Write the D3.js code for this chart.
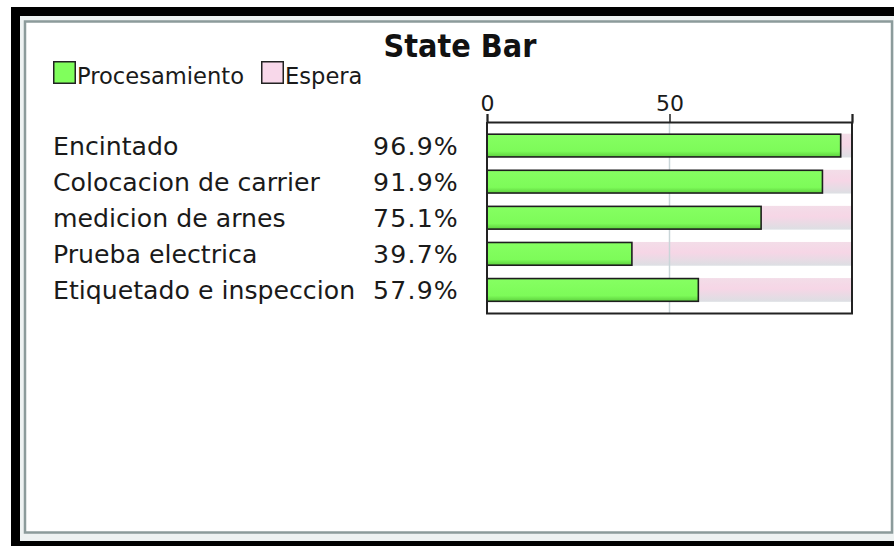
<!DOCTYPE html>
<html>
<head>
<meta charset="utf-8">
<script src="https://cdn.jsdelivr.net/npm/d3@7"></script>
<style>
  html, body { margin: 0; padding: 0; background: #ffffff; }
  svg { display: block; }
</style>
</head>
<body>
<svg id="chart" width="894" height="546"></svg>
<script>
// ---- data ----
const categories = ["Encintado", "Colocacion de carrier", "medicion de arnes", "Prueba electrica", "Etiquetado e inspeccion"];
const procesamiento = [96.9, 91.9, 75.1, 39.7, 57.9];
const espera = [3.1, 8.1, 24.9, 60.3, 42.1];
const seriesNames = ["Procesamiento", "Espera"];
const tickValues = [0, 50, 100];
const tickLabels = ["0", "50", ""];
const title = "State Bar";

const svg = d3.select("#chart");
const defs = svg.append("defs");

const gGreen = defs.append("linearGradient").attr("id", "gGreen").attr("x1", 0).attr("y1", 0).attr("x2", 0).attr("y2", 1);
gGreen.append("stop").attr("offset", "0%").attr("stop-color", "#86ff62");
gGreen.append("stop").attr("offset", "75%").attr("stop-color", "#7dfb59");
gGreen.append("stop").attr("offset", "100%").attr("stop-color", "#5ccf3d");

const gPink = defs.append("linearGradient").attr("id", "gPink").attr("x1", 0).attr("y1", 0).attr("x2", 0).attr("y2", 1);
gPink.append("stop").attr("offset", "0%").attr("stop-color", "#f3dde8");
gPink.append("stop").attr("offset", "45%").attr("stop-color", "#f6d6e6");
gPink.append("stop").attr("offset", "100%").attr("stop-color", "#dcdfe3");

// ---- window frame ----
svg.append("rect").attr("x", 11).attr("y", 7).attr("width", 900).attr("height", 560).attr("fill", "#000");
svg.append("rect").attr("x", 20).attr("y", 16).attr("width", 890).attr("height", 525).attr("fill", "#eef2f2");
svg.append("rect").attr("x", 25).attr("y", 21.5).attr("width", 867).attr("height", 511)
  .attr("fill", "#ffffff").attr("stroke", "#8c9b9b").attr("stroke-width", 2.5);

// ---- title ----
svg.append("text").attr("x", 460).attr("y", 57)
  .attr("text-anchor", "middle")
  .attr("font-family", "'DejaVu Sans Condensed', 'DejaVu Sans', sans-serif")
  .attr("font-weight", "bold").attr("font-size", 32).attr("fill", "#111")
  .text(title);

// ---- legend ----
const legendItems = [
  { name: seriesNames[0], fill: "#80ff5c", x: 53 },
  { name: seriesNames[1], fill: "#f8d8ea", x: 261 }
];
const leg = svg.append("g");
legendItems.forEach(d => {
  leg.append("rect").attr("x", d.x + 0.75).attr("y", 61.75).attr("width", 21.5).attr("height", 21.5)
    .attr("fill", d.fill).attr("stroke", "#222").attr("stroke-width", 1.5);
  leg.append("text").attr("x", d.x + 24).attr("y", 84)
    .attr("font-family", "'DejaVu Sans', sans-serif").attr("font-size", 22.6).attr("fill", "#1a1a1a")
    .text(d.name);
});

// ---- scales ----
const plot = { left: 487, right: 852, top: 122, bottom: 313.5 };
const x = d3.scaleLinear().domain([0, 100]).range([plot.left, plot.right]);
const y = d3.scaleBand().domain(categories).range([plot.top, plot.bottom]).paddingInner(0.37).paddingOuter(0.338);

// espera background bars (stacked after procesamiento, spanning to 100)
svg.append("g").selectAll("rect").data(categories).join("rect")
  .attr("x", (d, i) => x(procesamiento[i]))
  .attr("y", d => y(d) - 0.5)
  .attr("width", (d, i) => x(procesamiento[i] + espera[i]) - x(procesamiento[i]))
  .attr("height", y.bandwidth() + 1)
  .attr("fill", "url(#gPink)");

// gridline at 50
svg.append("line").attr("x1", x(50)).attr("x2", x(50)).attr("y1", plot.top).attr("y2", plot.bottom)
  .attr("stroke", "#c9d5d8").attr("stroke-width", 1.5);

// procesamiento bars
svg.append("g").selectAll("rect").data(categories).join("rect")
  .attr("x", x(0))
  .attr("y", d => y(d))
  .attr("width", (d, i) => x(procesamiento[i]) - x(0))
  .attr("height", y.bandwidth())
  .attr("fill", "url(#gGreen)")
  .attr("stroke", "#1e1e1e").attr("stroke-width", 1.6);

// plot frame
svg.append("path")
  .attr("d", `M${plot.left},${plot.top}V${plot.bottom}H${plot.right}V${plot.top}`)
  .attr("fill", "none").attr("stroke", "#222").attr("stroke-width", 2);

// top axis
const axis = d3.axisTop(x).tickValues(tickValues).tickSize(8).tickPadding(3)
  .tickFormat((d, i) => tickLabels[i]);
const ag = svg.append("g").attr("transform", `translate(0,${plot.top})`).call(axis);
ag.select(".domain").attr("stroke", "#222").attr("stroke-width", 2);
ag.selectAll(".tick line").attr("stroke", "#222").attr("stroke-width", 1.5);
ag.selectAll(".tick text").attr("font-family", "'DejaVu Sans', sans-serif").attr("font-size", 22).attr("fill", "#1a1a1a");

// category labels
svg.append("g").selectAll("text").data(categories).join("text")
  .attr("x", 53)
  .attr("y", d => y(d) + y.bandwidth() / 2)
  .attr("dy", "0.36em")
  .attr("font-family", "'DejaVu Sans', sans-serif").attr("font-size", 25.2).attr("fill", "#1a1a1a")
  .text(d => d);

// percent labels
svg.append("g").selectAll("text").data(categories).join("text")
  .attr("x", 459)
  .attr("y", d => y(d) + y.bandwidth() / 2)
  .attr("dy", "0.36em")
  .attr("text-anchor", "end")
  .attr("font-family", "'DejaVu Sans', sans-serif").attr("font-size", 25.2).attr("letter-spacing", 1.2).attr("fill", "#1a1a1a")
  .text((d, i) => procesamiento[i].toFixed(1) + "%");
</script>
</body>
</html>
